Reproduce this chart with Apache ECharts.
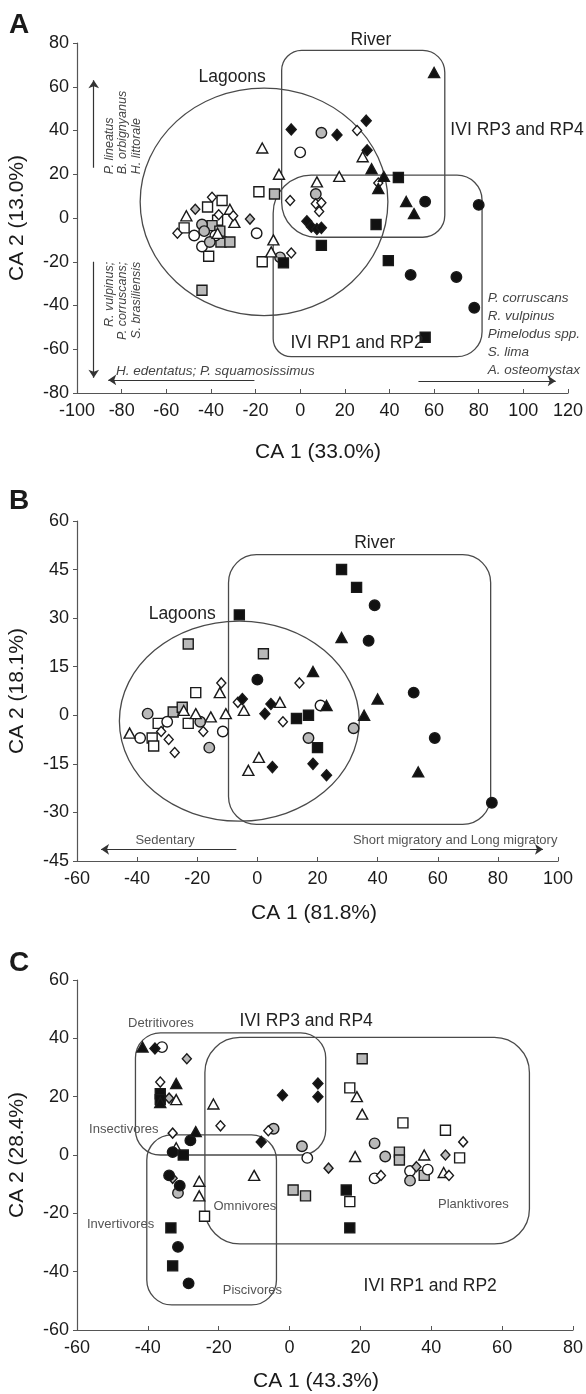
<!DOCTYPE html>
<html>
<head>
<meta charset="utf-8">
<script src="https://cdn.jsdelivr.net/npm/echarts@6/dist/echarts.min.js"></script>
<style>
html, body { margin: 0; padding: 0; background: #fff; }
#chart { width: 586px; height: 1394px; }
</style>
</head>
<body>
<div id="chart"></div>
<script>
// ---- panel A : CA scores (filled / grey / open markers) ----
const aSqF = [[44, 18.5], [34, -3], [9.5, -12.5], [39.5, -19.5], [56, -54.5], [-7.5, -20.5]];
const aSqG = [[-11.5, 11], [-44, -33], [-39.5, -3.5], [-36, -6], [-35.5, -11], [-31.5, -11]];
const aSqO = [[-18.5, 12], [-17, -20], [-41.5, 5], [-35, 8], [-52, -4.5], [-41, -17.5], [-37, -1]];
const aCiF = [[56, 7.5], [80, 6], [49.5, -26], [70, -27], [78, -41]];
const aCiG = [[9.5, 39], [7, 11], [-9, -18], [-44, -3], [-40.5, -11], [-43, -6]];
const aCiO = [[0, 30], [-19.5, -7], [-47.5, -8], [-44, -13], [-38, -8]];
const aTrF = [[60, 66.5], [32, 22.5], [37.5, 19], [35, 13.5], [47.5, 7.5], [51, 2]];
const aTrO = [[-17, 32], [-9.5, 20], [17.5, 19], [7.5, 16.5], [28, 28], [-12, -10], [-13, -15.5],
              [-31.5, 4], [-29.5, -2], [-51, 1], [-37, -7]];
const aDiF = [[-4, 40.5], [16.5, 38], [29.6, 44.5], [30, 31], [3, -1.5], [5, -4], [7.5, -5], [9.5, -4.5]];
const aDiO = [[25.5, 40], [35, 16], [-4.5, 8], [7, 6.5], [8.5, 3], [9.5, 7], [-4, -16],
              [-39.5, 9.5], [-36.5, 1.5], [-55, -7], [-30, 1]];
const aDiG = [[-47, 4], [-22.5, -0.5]];

// ---- panel B ----
const bSqF = [[28, 45], [33, 39.5], [-6, 31], [13, -1], [17, 0], [20, -10]];
const bSqG = [[-23, 22], [2, 19], [-28, 1], [-25, 2.5]];
const bSqO = [[-20.5, 7], [-33, -2.5], [-35, -7], [-34.5, -9.5], [-23, -2.5]];
const bCiF = [[39, 34], [37, 23], [0, 11], [52, 7], [59, -7], [78, -27]];
const bCiG = [[-36.5, 0.5], [-19, -2], [-16, -10], [17, -7], [32, -4]];
const bCiO = [[-39, -7], [-11.5, -5], [21, 3], [-30, -2]];
const bTrF = [[28, 24], [18.5, 13.5], [40, 5], [23, 3], [35.5, 0], [53.5, -17.5]];
const bTrO = [[-12.5, 7], [7.5, 4], [-4.5, 1.5], [-10.5, 0.5], [-15.5, -0.5], [-20.5, 0.5],
              [0.5, -13], [-3, -17], [-42.5, -5.5], [-24.5, 1.5]];
const bDiF = [[-5, 5], [4.5, 3.5], [2.5, 0.5], [5, -16], [18.5, -15], [23, -18.5]];
const bDiO = [[-12, 10], [14, 10], [-6.5, 4], [8.5, -2], [-18, -5], [-27.5, -11.5], [-32, -5], [-29.5, -7.5]];

// ---- panel C ----
const cSqF = [[-36.5, 21], [-36.5, 19], [-30, 0], [16, -12], [17, -25], [-33.5, -25], [-33, -38]];
const cSqG = [[20.5, 33], [1, -12], [4.5, -14], [31, 1], [31, -1.7], [38, -7]];
const cSqO = [[17, 23], [32, 11], [44, 8.5], [48, -1], [17, -16], [-24, -21]];
const cCiF = [[-28, 5], [-33, 1], [-34, -7], [-31, -10.5], [-31.5, -31.5], [-28.5, -44]];
const cCiG = [[-4.5, 9], [3.5, 3], [24, 4], [27, -0.5], [34, -8.8], [-31.5, -13]];
const cCiO = [[-36, 37], [5, -1], [24, -8], [34, -5.5], [39, -5]];
const cTrF = [[-41.5, 37], [-32, 24.5], [-36.5, 18], [-26.5, 8]];
const cTrO = [[-32, 19], [-21.5, 17.5], [19, 20], [20.5, 14], [18.5, -0.5], [38, 0], [43.5, -6],
              [-10, -7], [-25.5, -9], [-25.5, -14], [-32, 2.5]];
const cDiF = [[-38, 36.5], [-2, 20.5], [8, 24.5], [8, 20], [-8, 4.5]];
const cDiO = [[-36.5, 25], [-19.5, 10], [-6, 8.3], [49, 4.5], [45, -7], [25.8, -7], [-33, 7.5]];
const cDiG = [[-29, 33], [-34, 19.5], [44, 0], [11, -4.5], [35.8, -4], [-33, -8]];

// ---- group outlines (data units) ----
const aEllipses = [[-16.2, 7.4, 55.5, 52]];              // cx, cy, rx, ry
const aBoxes = [[-8.3, -8.8, 64.8, 76.6], [-12.1, -63.4, 81.5, 19.6]];  // x1, y1, x2, y2
const bEllipses = [[-6, -1.8, 39.9, 30.9]];
const bBoxes = [[-9.6, -33.7, 77.6, 49.6]];
const cBoxes = [[-43.5, 0, 10.2, 41.9], [-23.9, -30.5, 67.7, 40.3], [-40.3, -51.4, -3.7, 6.9]];

// ---- arrows ----
const aArrows = [[[-92.5, 23], [-92.5, 63]], [[-92.5, -20], [-92.5, -73]],
                 [[-20.5, -74], [-86, -74]], [[53, -74.5], [114.5, -74.5]]];
const bArrows = [[[-7, -41.4], [-52, -41.4]], [[50.8, -41.4], [95, -41.4]]];

// ---- text annotations: x, y, text, kind ----
const aLabels = [
  [31.7, 81.5, 'River', 'big'],
  [-30.5, 64.5, 'Lagoons', 'big'],
  [67.3, 40, 'IVI RP3 and RP4', 'bigL'],
  [25.5, -57, 'IVI RP1 and RP2', 'big'],
  [-85.5, 20, 'P. lineatus', 'up'],
  [-79.5, 20, 'B. orbignyanus', 'up'],
  [-73.2, 20, 'H. littorale', 'up'],
  [-85.5, -20, 'R. vulpinus;', 'down'],
  [-79.5, -20, 'P. corruscans;', 'down'],
  [-73.2, -20, 'S. brasiliensis', 'down'],
  [-82.5, -70, 'H. edentatus; P. squamosissimus', 'ital'],
  [84, -36.6, 'P. corruscans', 'ital'],
  [84, -44.8, 'R. vulpinus', 'ital'],
  [84, -53, 'Pimelodus spp.', 'ital'],
  [84, -61.3, 'S. lima', 'ital'],
  [84, -69.5, 'A. osteomystax', 'ital']
];
const bLabels = [
  [39, 53, 'River', 'big'],
  [-25, 31.3, 'Lagoons', 'big'],
  [-30.7, -38.5, 'Sedentary', 'small'],
  [65.8, -38.5, 'Short migratory and Long migratory', 'small']
];
const cLabels = [
  [-36.3, 45, 'Detritivores', 'small'],
  [4.7, 46, 'IVI RP3 and RP4', 'big'],
  [-46.8, 8.8, 'Insectivores', 'small'],
  [-12.6, -17.5, 'Omnivores', 'small'],
  [51.9, -17.1, 'Planktivores', 'small'],
  [-47.7, -23.7, 'Invertivores', 'small'],
  [-10.5, -46.3, 'Piscivores', 'small'],
  [39.7, -44.9, 'IVI RP1 and RP2', 'big']
];

const FONT = '"Liberation Sans", Arial, sans-serif';
const LINE = '#4a4a4a';

const lblStyle = {
  big:   { font: '17.5px ' + FONT, fill: '#222', align: 'center', rot: 0 },
  bigL:  { font: '17.5px ' + FONT, fill: '#222', align: 'left', rot: 0 },
  ital:  { font: 'italic 13.5px ' + FONT, fill: '#444', align: 'left', rot: 0 },
  up:    { font: 'italic 12.5px ' + FONT, fill: '#444', align: 'left', rot: Math.PI / 2 },
  down:  { font: 'italic 12.5px ' + FONT, fill: '#444', align: 'right', rot: Math.PI / 2 },
  small: { font: '13px ' + FONT, fill: '#555', align: 'center', rot: 0 }
};

const mk = {
  sqF: { symbol: 'rect', size: 10, color: '#111' },
  sqG: { symbol: 'rect', size: 10, color: '#b9b9b9' },
  sqO: { symbol: 'rect', size: 10, color: '#fff' },
  ciF: { symbol: 'circle', size: 10.5, color: '#111' },
  ciG: { symbol: 'circle', size: 10.5, color: '#b9b9b9' },
  ciO: { symbol: 'circle', size: 10.5, color: '#fff' },
  trF: { symbol: 'triangle', size: [11, 10], color: '#111' },
  trO: { symbol: 'triangle', size: [11, 10], color: '#fff' },
  diF: { symbol: 'diamond', size: [10, 11], color: '#111' },
  diO: { symbol: 'diamond', size: [9, 10], color: '#fff' },
  diG: { symbol: 'diamond', size: [9, 10], color: '#b9b9b9' }
};

function pts(gi, data, key) {
  const m = mk[key];
  return {
    type: 'scatter', xAxisIndex: gi, yAxisIndex: gi, data: data,
    symbol: m.symbol, symbolSize: m.size, silent: true, z: 3,
    itemStyle: { color: m.color, borderColor: '#1a1a1a', borderWidth: 1.4, opacity: 1 }
  };
}

function boxes(gi, list, radii) {
  return {
    type: 'custom', xAxisIndex: gi, yAxisIndex: gi, silent: true, z: 2, clip: false,
    data: list, encode: { x: [0, 2], y: [1, 3] },
    renderItem: (params, api) => {
      const p1 = api.coord([api.value(0), api.value(3)]);
      const p2 = api.coord([api.value(2), api.value(1)]);
      return {
        type: 'rect',
        shape: { x: p1[0], y: p1[1], width: p2[0] - p1[0], height: p2[1] - p1[1], r: radii[params.dataIndex] },
        style: { fill: 'none', stroke: LINE, lineWidth: 1.3 }
      };
    }
  };
}

function ellipses(gi, list) {
  return {
    type: 'custom', xAxisIndex: gi, yAxisIndex: gi, silent: true, z: 2, clip: false,
    data: list, encode: { x: 0, y: 1 },
    renderItem: (params, api) => {
      const c = api.coord([api.value(0), api.value(1)]);
      const s = api.size([api.value(2), api.value(3)]);
      return {
        type: 'ellipse',
        shape: { cx: c[0], cy: c[1], rx: s[0], ry: s[1] },
        style: { fill: 'none', stroke: LINE, lineWidth: 1.3 }
      };
    }
  };
}

function arrows(gi, list) {
  return {
    type: 'lines', coordinateSystem: 'cartesian2d', xAxisIndex: gi, yAxisIndex: gi,
    silent: true, z: 2, symbol: ['none', 'arrow'], symbolSize: 8,
    lineStyle: { color: '#333', width: 1.2, opacity: 1 },
    data: list.map(a => ({ coords: a }))
  };
}

function labels(gi, list) {
  return {
    type: 'custom', xAxisIndex: gi, yAxisIndex: gi, silent: true, z: 4, clip: false,
    data: list.map(l => [l[0], l[1]]), encode: { x: 0, y: 1 },
    renderItem: (params, api) => {
      const l = list[params.dataIndex];
      const st = lblStyle[l[3]];
      const p = api.coord([l[0], l[1]]);
      return {
        type: 'text', x: p[0], y: p[1], rotation: st.rot,
        style: {
          text: l[2], font: st.font, fill: st.fill,
          textAlign: st.align, align: st.align,
          textVerticalAlign: 'middle', verticalAlign: 'middle'
        }
      };
    }
  };
}

function xAx(gi, min, max, step) {
  return {
    gridIndex: gi, type: 'value', min: min, max: max, interval: step,
    axisLine: { onZero: false, lineStyle: { color: '#555', width: 1.2 } },
    axisTick: { inside: true, length: 4, lineStyle: { color: '#555' } },
    axisLabel: { color: '#1a1a1a', fontSize: 18, fontFamily: FONT, margin: 9, interval: 0 },
    splitLine: { show: false }
  };
}
function yAx(gi, min, max, step) {
  return {
    gridIndex: gi, type: 'value', min: min, max: max, interval: step,
    axisLine: { onZero: false, lineStyle: { color: '#555', width: 1.2 } },
    axisTick: { inside: false, length: 4, lineStyle: { color: '#555' } },
    axisLabel: { color: '#1a1a1a', fontSize: 18, fontFamily: FONT, margin: 8, interval: 0 },
    splitLine: { show: false }
  };
}

function title(x, y, text, rot, font) {
  return {
    type: 'text', x: x, y: y, rotation: rot || 0, silent: true,
    style: { text: text, font: font || ('21px ' + FONT), fill: '#1a1a1a',
             textAlign: 'center', align: 'center', textVerticalAlign: 'middle', verticalAlign: 'middle' }
  };
}

const chart = echarts.init(document.getElementById('chart'), null, { renderer: 'canvas' });

const option = {
  animation: false,
  backgroundColor: '#fff',
  grid: [
    { left: 77, top: 43, width: 492, height: 350 },
    { left: 77, top: 521, width: 481, height: 340 },
    { left: 77, top: 980, width: 497.5, height: 350 }
  ],
  xAxis: [xAx(0, -100, 120, 20), xAx(1, -60, 100, 20), xAx(2, -60, 80, 20)],
  yAxis: [yAx(0, -80, 80, 20), yAx(1, -45, 60, 15), yAx(2, -60, 60, 20)],
  graphic: [
    title(19, 25, 'A', 0, 'bold 28px ' + FONT),
    title(19, 501, 'B', 0, 'bold 28px ' + FONT),
    title(19, 963, 'C', 0, 'bold 28px ' + FONT),
    title(17, 218, 'CA 2 (13.0%)', Math.PI / 2),
    title(17, 691, 'CA 2 (18.1%)', Math.PI / 2),
    title(17, 1155, 'CA 2 (28.4%)', Math.PI / 2),
    title(318, 452, 'CA 1 (33.0%)'),
    title(314, 913, 'CA 1 (81.8%)'),
    title(316, 1381, 'CA 1 (43.3%)')
  ],
  series: [
    ellipses(0, aEllipses),
    boxes(0, aBoxes, [[20, 22, 22, 35], [38, 25, 25, 18]]),
    arrows(0, aArrows),
    pts(0, aSqO, 'sqO'), pts(0, aSqG, 'sqG'), pts(0, aCiO, 'ciO'), pts(0, aCiG, 'ciG'),
    pts(0, aTrO, 'trO'), pts(0, aDiO, 'diO'), pts(0, aDiG, 'diG'),
    pts(0, aSqF, 'sqF'), pts(0, aCiF, 'ciF'), pts(0, aTrF, 'trF'), pts(0, aDiF, 'diF'),
    labels(0, aLabels),

    ellipses(1, bEllipses),
    boxes(1, bBoxes, [[28, 28, 28, 28]]),
    arrows(1, bArrows),
    pts(1, bSqO, 'sqO'), pts(1, bSqG, 'sqG'), pts(1, bCiO, 'ciO'), pts(1, bCiG, 'ciG'),
    pts(1, bTrO, 'trO'), pts(1, bDiO, 'diO'),
    pts(1, bSqF, 'sqF'), pts(1, bCiF, 'ciF'), pts(1, bTrF, 'trF'), pts(1, bDiF, 'diF'),
    labels(1, bLabels),

    boxes(2, cBoxes, [[25, 25, 25, 25], [35, 35, 35, 35], [25, 25, 25, 25]]),
    pts(2, cSqO, 'sqO'), pts(2, cSqG, 'sqG'), pts(2, cCiO, 'ciO'), pts(2, cCiG, 'ciG'),
    pts(2, cTrO, 'trO'), pts(2, cDiO, 'diO'), pts(2, cDiG, 'diG'),
    pts(2, cSqF, 'sqF'), pts(2, cCiF, 'ciF'), pts(2, cTrF, 'trF'), pts(2, cDiF, 'diF'),
    labels(2, cLabels)
  ]
};

chart.setOption(option);
</script>
</body>
</html>
